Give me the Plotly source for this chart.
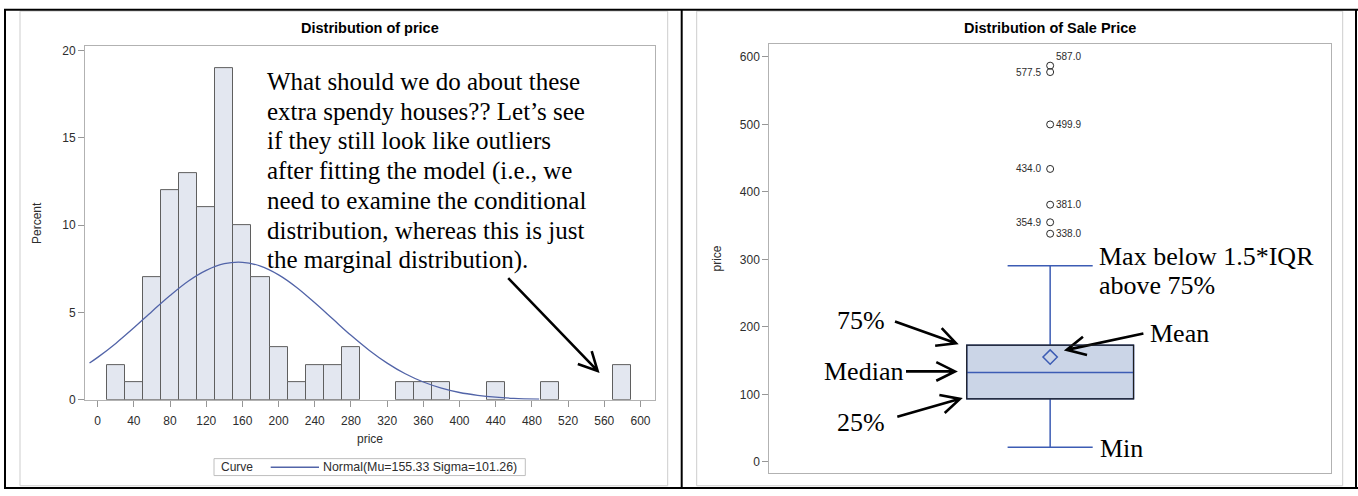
import math
import plotly.graph_objects as go

W, H = 1358, 496

# ---------------- data: left histogram ----------------
BIN_MID = [20, 40, 60, 80, 100, 120, 140, 160, 180, 200, 220, 240, 260, 280, 300,
           320, 340, 360, 380, 400, 420, 440, 460, 480, 500, 520, 540, 560, 580]
PERCENT = [2, 1, 7, 12, 13, 11, 19, 10, 7, 3, 1, 2, 2, 3, 0,
           0, 1, 1, 1, 0, 0, 1, 0, 0, 1, 0, 0, 0, 2]
BIN_WIDTH = 20
X_TICKS = [0, 40, 80, 120, 160, 200, 240, 280, 320, 360, 400, 440, 480, 520, 560, 600]
Y_TICKS = [0, 5, 10, 15, 20]

# fitted normal curve
MU, SIGMA = 155.33, 101.26
CURVE_X = [-9, 0, 20, 40, 60, 80, 100, 120, 140, 160, 180, 200, 220, 240, 260,
           280, 300, 320, 340, 360, 380, 400, 420, 440, 460, 488]
CURVE_Y = [2.11, 2.43, 3.23, 4.12, 5.06, 5.97, 6.79, 7.41, 7.79, 7.87, 7.65, 7.15,
           6.43, 5.55, 4.62, 3.69, 2.84, 2.10, 1.49, 1.02, 0.67, 0.42, 0.26, 0.15,
           0.085, 0.036]

# ---------------- data: right box plot ----------------
Q1, MEDIAN, Q3 = 93.4, 132.5, 172.8
LOW_WHISKER, HIGH_WHISKER = 21.8, 290.4
MEAN = 155.33
OUTLIERS = [338.0, 354.9, 381.0, 434.0, 499.9, 577.5, 587.0]
OUTLIER_SIDE = ["right", "left", "right", "left", "right", "left", "right-up"]
Y2_TICKS = [0, 100, 200, 300, 400, 500, 600]

LEFT_NOTE = [
    "What should we do about these",
    "extra spendy houses?? Let\u2019s see",
    "if they still look like outliers",
    "after fitting the model (i.e., we",
    "need to examine the conditional",
    "distribution, whereas this is just",
    "the marginal distribution).",
]


def px(x):
    return x / W


def py(y):
    return 1 - y / H


SANS = "Liberation Sans, Arial, sans-serif"
SERIF = "Liberation Serif, Times New Roman, serif"
FRAME = "rgb(178,178,178)"
TICKC = "rgb(150,150,150)"
TXT = "rgb(45,45,45)"
BLUE = "rgb(60,92,180)"
CURVE_COLOR = "rgb(82,100,168)"

fig = go.Figure()

# histogram
mids = [m for m, p in zip(BIN_MID, PERCENT) if p > 0]
pcts = [p for p in PERCENT if p > 0]
fig.add_trace(go.Bar(
    x=mids, y=pcts, width=BIN_WIDTH,
    marker=dict(color="rgb(227,231,240)", line=dict(color="rgb(95,95,95)", width=1)),
    showlegend=False, xaxis="x", yaxis="y", hoverinfo="x+y"))

fig.add_trace(go.Scatter(
    x=CURVE_X, y=CURVE_Y, mode="lines", line=dict(color=CURVE_COLOR, width=1.3, shape="spline"),
    name=f"Normal(Mu={MU:.2f} Sigma={SIGMA:.2f})", showlegend=False, xaxis="x", yaxis="y"))

# box plot
BOX_W = 0.297
fig.add_trace(go.Box(
    x=[0], q1=[Q1], median=[MEDIAN], q3=[Q3], lowerfence=[LOW_WHISKER], upperfence=[HIGH_WHISKER],
    width=BOX_W, whiskerwidth=0.51, boxpoints=False,
    fillcolor="rgb(203,213,231)", line=dict(color=BLUE, width=1.5),
    showlegend=False, xaxis="x2", yaxis="y2"))
fig.add_trace(go.Scatter(
    x=[0], y=[MEAN], mode="markers",
    marker=dict(symbol="diamond-open", size=11, color=BLUE, line=dict(width=1.5)),
    showlegend=False, xaxis="x2", yaxis="y2"))
fig.add_trace(go.Scatter(
    x=[0] * len(OUTLIERS), y=OUTLIERS, mode="markers",
    marker=dict(symbol="circle-open", size=7, color="rgb(40,40,40)", line=dict(width=1)),
    showlegend=False, xaxis="x2", yaxis="y2"))

annotations = []
for v, side in zip(OUTLIERS, OUTLIER_SIDE):
    if side == "left":
        annotations.append(dict(x=0, y=v, xref="x2", yref="y2", text=f"{v:.1f}", showarrow=False,
                                xanchor="right", yanchor="middle", xshift=-7,
                                font=dict(family=SANS, size=10, color=TXT)))
    else:
        annotations.append(dict(x=0, y=v, xref="x2", yref="y2", text=f"{v:.1f}", showarrow=False,
                                xanchor="left", yanchor="middle", xshift=4,
                                yshift=9 if side == "right-up" else 0,
                                font=dict(family=SANS, size=10, color=TXT)))


def ptext(x, y, text, size=12, family=SANS, color=TXT, xanchor="center", angle=0):
    return dict(x=px(x), y=py(y), xref="paper", yref="paper", text=text, showarrow=False,
                xanchor=xanchor, yanchor="middle", textangle=angle,
                font=dict(family=family, size=size, color=color))


# titles and axis titles
annotations += [
    ptext(369.8, 26, "<b>Distribution of price</b>", size=14.5, color="black"),
    ptext(1050.2, 26, "<b>Distribution of Sale Price</b>", size=14.5, color="black"),
    ptext(37, 224.5, "Percent", angle=-90),
    ptext(369.8, 445, "price"),
    ptext(717, 260.8, "price", angle=-90),
]

for i, line in enumerate(LEFT_NOTE):
    annotations.append(ptext(265, 80.2 + 30.3 * i, line, size=25, family=SERIF, color="black",
                             xanchor="left"))

RIGHT_NOTES = [
    ("Max below 1.5*IQR", 1096.6, 258.3),
    ("above 75%", 1096.6, 288.3),
    ("75%", 835, 324.5),
    ("Mean", 1147.7, 337.3),
    ("Median", 821.7, 376),
    ("25%", 834.5, 428.5),
    ("Min", 1098, 455),
]
for t, x, y in RIGHT_NOTES:
    annotations.append(ptext(x, y, t, size=26, family=SERIF, color="black", xanchor="left"))

# legend (drawn like the SAS legend box)
LEG_Y = 473.8
annotations.append(ptext(219, LEG_Y, "Curve", xanchor="left"))
annotations.append(ptext(321, LEG_Y, f"Normal(Mu={MU:.2f} Sigma={SIGMA:.2f})", xanchor="left", size=12.4))

shapes = []
shapes.append(dict(type="rect", xref="paper", yref="paper", x0=px(214), x1=px(525.3),
                   y0=py(482.3), y1=py(465), line=dict(color="rgb(190,190,190)", width=1),
                   fillcolor="white", layer="below"))
shapes.append(dict(type="line", xref="paper", yref="paper", x0=px(270.7), x1=px(319),
                   y0=py(LEG_Y), y1=py(LEG_Y), line=dict(color=CURVE_COLOR, width=1.3)))


def arrow(x0, y0, x1, y1, L=21, ang=27):
    dx, dy = x0 - x1, y0 - y1
    n = math.hypot(dx, dy)
    ux, uy = dx / n, dy / n
    pts = []
    for s in (1, -1):
        a = math.radians(ang * s)
        rx = ux * math.cos(a) - uy * math.sin(a)
        ry = ux * math.sin(a) + uy * math.cos(a)
        pts.append((x1 + L * rx, y1 + L * ry))
    p = (f"M {px(x0)},{py(y0)} L {px(x1)},{py(y1)} "
         f"M {px(pts[0][0])},{py(pts[0][1])} L {px(x1)},{py(y1)} L {px(pts[1][0])},{py(pts[1][1])}")
    return dict(type="path", path=p, xref="paper", yref="paper", line=dict(color="black", width=2.6))


for a in [(508.2, 280.7, 597.6, 375.5), (895, 325, 956, 347.3), (906, 376, 955, 376),
          (897.3, 422.3, 960, 404), (1143.4, 337.3, 1066.7, 354)]:
    shapes.append(arrow(*a))

# box outline (black) on top of the box
shapes.append(dict(type="rect", xref="x2", yref="y2", x0=-BOX_W / 2, x1=BOX_W / 2, y0=Q1, y1=Q3,
                   line=dict(color="rgb(30,30,30)", width=1.2), fillcolor="rgba(0,0,0,0)"))

# graph borders (light grey) and table borders (black)
for x0, x1 in [(20, 667.7), (696.7, 1342.7)]:
    shapes.append(dict(type="rect", xref="paper", yref="paper", x0=px(x0), x1=px(x1),
                       y0=py(492.7), y1=py(8.3), line=dict(color="rgb(205,205,205)", width=1),
                       layer="below"))
for (x0, y0, x1, y1) in [(4, 7, 1358, 7), (5, 6, 5, 496), (4, 495, 1358, 495),
                         (681.7, 6, 681.7, 496), (1356, 6, 1356, 496)]:
    shapes.append(dict(type="line", xref="paper", yref="paper", x0=px(x0), x1=px(x1),
                       y0=py(y0), y1=py(y1), line=dict(color="black", width=2)))

axis_common = dict(showgrid=False, zeroline=False, showline=True, mirror=True, linecolor=FRAME,
                   linewidth=1, ticks="outside", ticklen=6, tickcolor=TICKC,
                   tickfont=dict(family=SANS, size=12, color=TXT))

fig.update_layout(
    width=W, height=H, margin=dict(l=0, r=0, t=0, b=0), paper_bgcolor="white", plot_bgcolor="white",
    xaxis=dict(domain=[px(85), px(654.5)], range=[-14, 615.5], tickvals=X_TICKS, anchor="y",
               ticklabelstandoff=4, **axis_common),
    yaxis=dict(domain=[py(405), py(44)], range=[0, 20.24], tickvals=Y_TICKS, anchor="x", **axis_common),
    xaxis2=dict(domain=[px(769.3), px(1331)], range=[-0.5, 0.5], anchor="y2", showgrid=False,
                zeroline=False, showline=True, mirror=True, linecolor=FRAME, linewidth=1,
                showticklabels=False, ticks=""),
    yaxis2=dict(domain=[py(480), py(41.7)], range=[-17, 619.3], tickvals=Y2_TICKS, anchor="x2", **axis_common),
    showlegend=False,
    annotations=annotations, shapes=shapes, bargap=0,
)

fig.write_html("out.html")
